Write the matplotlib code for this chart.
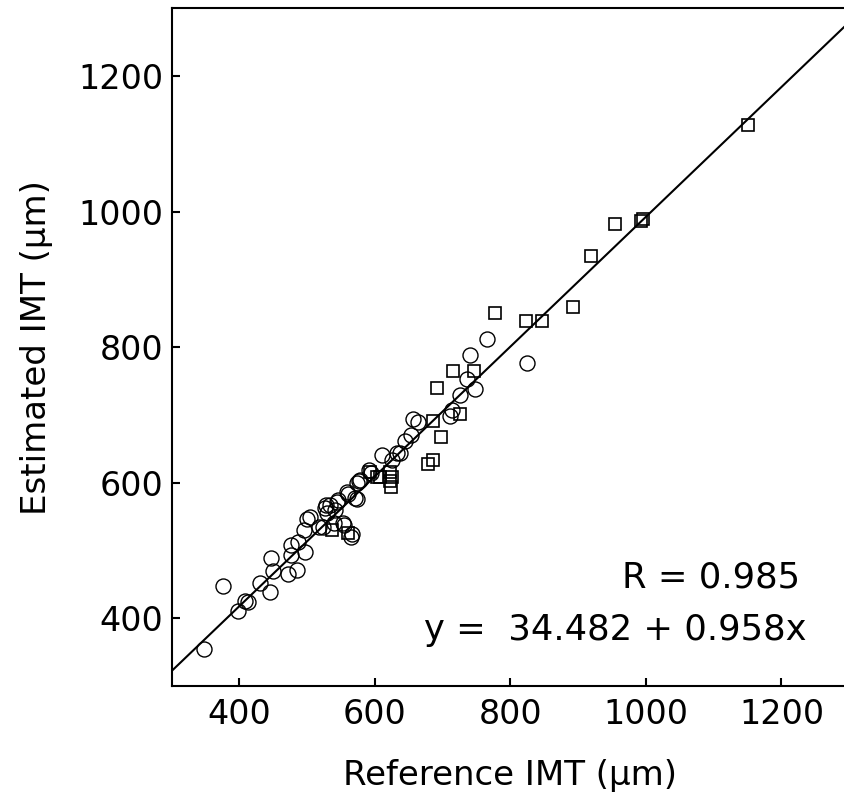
import numpy as np
import matplotlib
matplotlib.use("Agg")
import matplotlib.pyplot as plt

# circles (reference, estimated)
circRef = [348, 376, 398, 408, 413, 430, 446, 447, 449, 472, 485, 476, 477, 487, 497,
           496, 500, 505, 517, 524, 528, 534, 527, 529, 541, 544, 546, 539, 554, 553,
           559, 561, 566, 565, 571, 573, 573, 576, 578, 591, 595, 610, 625, 632, 637,
           645, 653, 657, 663, 711, 714, 726, 736, 748, 741, 766, 824]
circEst = [354, 447, 410, 426, 424, 452, 438, 489, 469, 465, 471, 508, 493, 513, 498,
           530, 546, 550, 535, 535, 567, 567, 562, 555, 560, 572, 575, 540, 538, 540,
           587, 584, 525, 520, 577, 576, 599, 602, 604, 619, 615, 641, 634, 644, 644,
           661, 671, 694, 690, 699, 707, 730, 753, 738, 788, 812, 777]

# squares
sqRef = [1151, 993, 995, 954, 919, 892, 847, 823, 777, 716, 746, 691, 726, 686, 698,
         686, 678, 593, 608, 623, 625, 623, 624, 603, 537, 561]
sqEst = [1128, 987, 989, 982, 934, 859, 838, 838, 850, 765, 765, 740, 702, 691, 667,
         634, 628, 616, 609, 616, 609, 602, 594, 609, 530, 526]

intercept = 34.482
slope = 0.958

fs = 24

fig = plt.figure(figsize=(8.45, 8.07), dpi=100)
ax = fig.add_axes([0.203, 0.15, 0.802, 0.8395])

ax.plot(circRef, circEst, linestyle="none", marker="o", ms=10.8, mfc="none",
        mec="black", mew=1.0)
ax.plot(sqRef, sqEst, linestyle="none", marker="s", ms=8.6, mfc="none",
        mec="black", mew=1.2)

xl = np.array([300, 1300])
ax.plot(xl, intercept + slope * xl, color="black", lw=1.5)

ax.set_xlim(300, 1300)
ax.set_ylim(300, 1300)
ax.set_xticks([400, 600, 800, 1000, 1200])
ax.set_yticks([400, 600, 800, 1000, 1200])
ax.tick_params(direction="in", length=6, width=1.5, labelsize=fs,
               top=False, right=False)
ax.tick_params(axis="y", pad=6)
ax.tick_params(axis="x", pad=9)
for s in ax.spines.values():
    s.set_linewidth(1.5)

ax.set_xlabel("Reference IMT (µm)", fontsize=24.5, labelpad=20)
ax.set_ylabel("Estimated IMT (µm)", fontsize=24.5, labelpad=18)

ax.text(0.928, 0.145, "R = 0.985", transform=ax.transAxes, ha="right",
        va="baseline", fontsize=25.5)
ax.text(0.937, 0.068, "y =  34.482 + 0.958x", transform=ax.transAxes, ha="right",
        va="baseline", fontsize=25.5)

plt.savefig("out.png", dpi=100)
